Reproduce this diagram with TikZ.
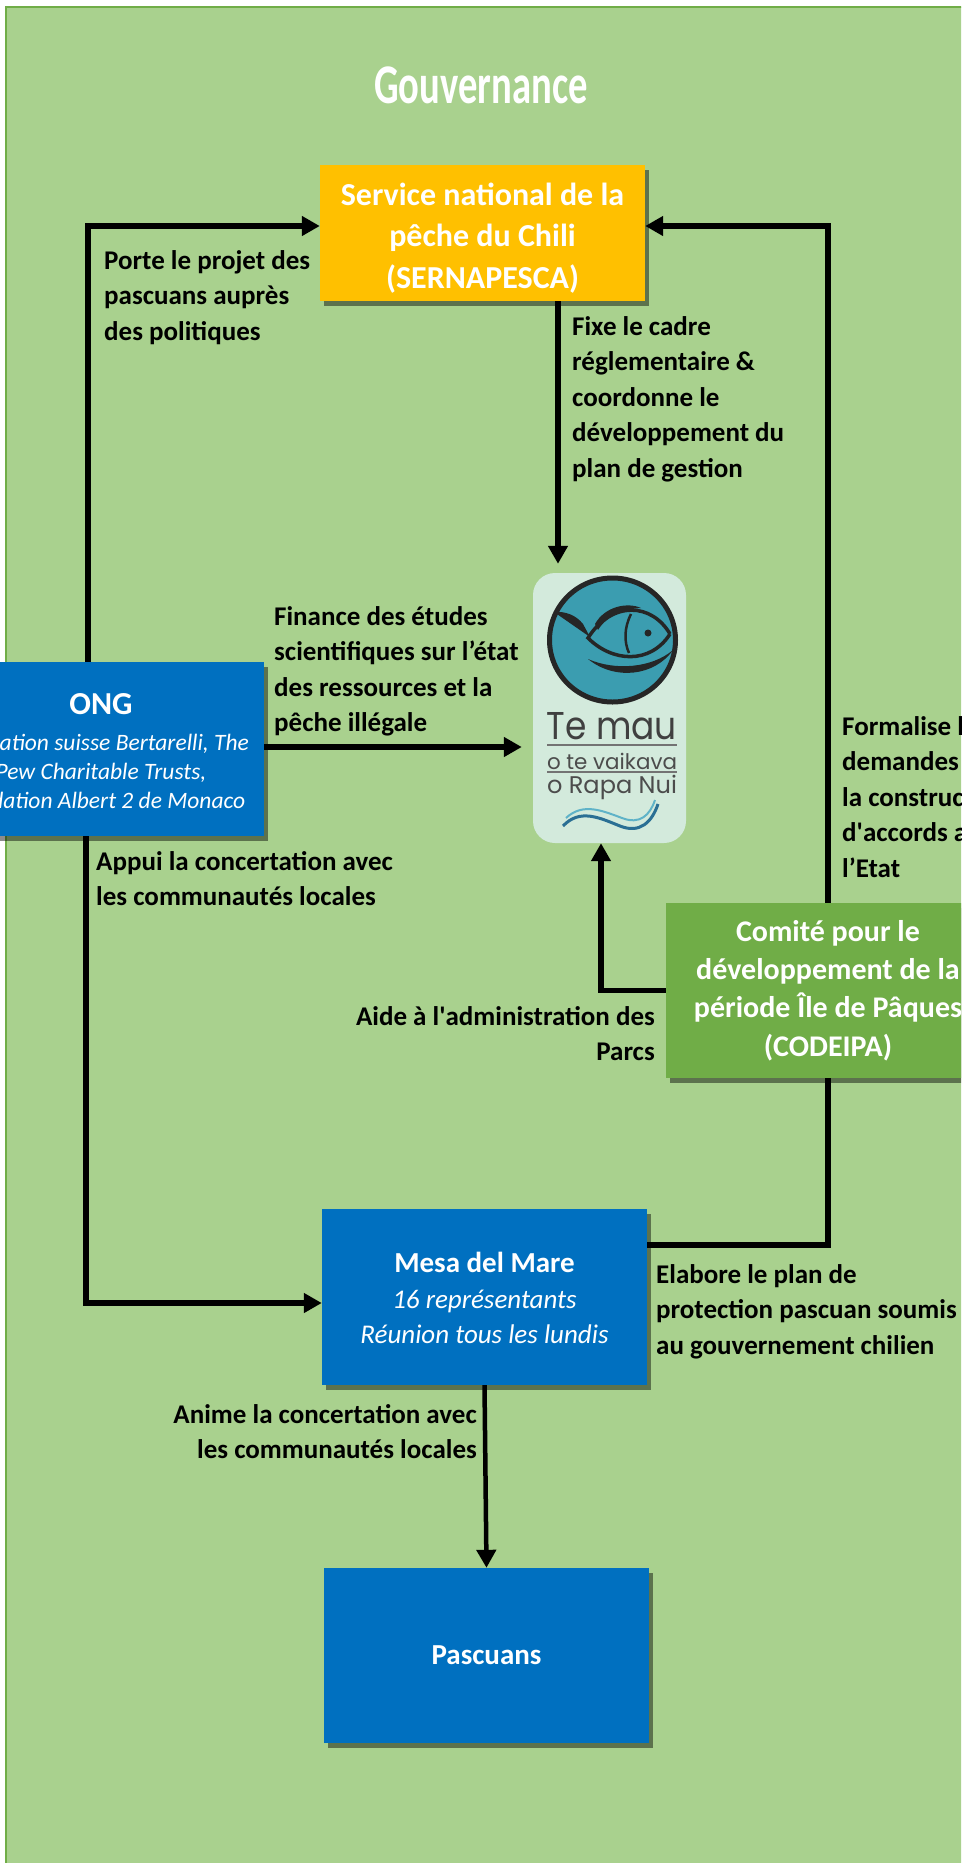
\documentclass[tikz,border=0pt]{standalone}
\usepackage{fontspec}
\setmainfont{Carlito}
\newfontfamily\logofont{Poppins}
\usetikzlibrary{arrows.meta,shadows,calc}
\definecolor{bggreen}{HTML}{A9D18E}
\definecolor{bdgreen}{HTML}{70AD47}
\definecolor{boxblue}{HTML}{0070C0}
\definecolor{boxorange}{HTML}{FFC000}
\definecolor{boxgreen}{HTML}{70AD47}
\definecolor{logobg}{HTML}{D3EADC}
\definecolor{fishteal}{HTML}{3B9DB0}
\definecolor{wavedark}{HTML}{2A6F94}
\definecolor{wavelight}{HTML}{5FB3C8}
\begin{document}
\begin{tikzpicture}[x=1pt,y=-1pt,
  arr/.style={line width=5.5pt,-{Triangle[length=18pt,width=19pt]}},
  conn/.style={line width=5.5pt},
  lbl/.style={font=\fontsize{27}{35.5}\selectfont\bfseries,inner sep=0pt,text=black},
  box/.style={draw=none,minimum width=325pt,minimum height=136pt,text=white,inner sep=0pt,align=center,
    drop shadow={shadow xshift=4pt,shadow yshift=-5pt,opacity=0.45,fill=black}},
  boxtxt/.style={text=white,inner sep=0pt,align=center}
]
\useasboundingbox (0,0) rectangle (961,1863);
\clip (0,0) rectangle (961,1863);
\fill[white] (0,0) rectangle (961,1863);
\filldraw[fill=bggreen,draw=bdgreen,line width=2.5pt] (6,7) rectangle (990,1890);

% title
\node[inner sep=0pt,text=white] (title) at (481,85) {\fontsize{56}{60}\selectfont\bfseries\scalebox{0.69}[1]{Gouvernance}};

% boxes
\node[box,fill=boxorange] (SERN) at (482.5,233) {};
\node[box,fill=boxblue,minimum width=326pt,minimum height=174pt] (ONG) at (101,749) {};
\node[box,fill=boxgreen,minimum width=324pt,minimum height=175pt,font=\fontsize{30}{38.3}\selectfont\bfseries] (COD) at (828,990.5) {Comité pour le\\développement de la\\période Île de Pâques\\(CODEIPA)};
\node[box,fill=boxblue,minimum height=176pt] (MESA) at (484.5,1297) {};
\node[box,fill=boxblue,minimum height=175pt,font=\fontsize{29}{35}\selectfont\bfseries] (PASC) at (486.5,1655.5) {Pascuans};

\node[boxtxt,font=\fontsize{32}{41.5}\selectfont\bfseries] (sernt) at (482.5,238) {Service national de la\\pêche du Chili\\(SERNAPESCA)};
\node[boxtxt,font=\fontsize{32}{38}\selectfont\bfseries] (ongt) at (101,704) {ONG};
\node[boxtxt,font=\fontsize{23.5}{29}\selectfont\itshape] (ongs) at (101,771) {Fondation suisse Bertarelli, The\\Pew Charitable Trusts,\\Fondation Albert 2 de Monaco};
\node[boxtxt,font=\fontsize{29}{35}\selectfont\bfseries] (mesat) at (484.5,1262) {Mesa del Mare};
\node[boxtxt,font=\fontsize{27}{35}\selectfont\itshape] (mesas) at (484.5,1316.5) {16 représentants\\Réunion tous les lundis};

% logo
\node[fill=logobg,rounded corners=22pt,minimum width=153pt,minimum height=270pt,inner sep=0pt] (LOGO) at (609.5,708) {};
\draw[fill=fishteal,line width=5pt,draw=black!85] (612.5,640) ellipse [x radius=63,y radius=62];
\draw[line width=3.5pt,black!85] (670,634) .. controls (652,603) and (612,600) .. (588,638) .. controls (612,662) and (650,665) .. (670,634);
\fill[black!85] (595,624) .. controls (605,606) and (628,602) .. (641,608) .. controls (625,609) and (608,614) .. (598,630) -- cycle;
\fill[black!85] (590,637) -- (554,612) .. controls (565,611) and (576,615) .. (583,624) -- cycle;
\fill[black!85] (588,659) .. controls (615,681) and (655,676) .. (673,650) .. controls (652,668) and (615,671) .. (588,659) -- cycle;
\draw[line width=2.5pt,black!85] (631,614) .. controls (624,628) and (624,642) .. (629,653);
\fill[black!85] (648,633) circle (3.5);
\node[inner sep=0pt,text=black!75] (tmau) at (612,726.5) {\resizebox{130pt}{27pt}{\logofont Te mau}};
\draw[black!55,line width=1.5pt] (547,745) -- (677,745);
\node[inner sep=0pt,text=black!70] (tvai) at (612,761) {\resizebox{130pt}{!}{\logofont o te vaikava}};
\draw[black!55,line width=1.5pt] (547,772) -- (677,772);
\node[inner sep=0pt,text=black!70] (trap) at (612,787) {\resizebox{130pt}{!}{\logofont o Rapa Nui}};
\draw[line width=3pt,wavedark] (563,826) .. controls (580,808) and (600,818) .. (620,826) .. controls (640,834) and (652,822) .. (658,804);
\draw[line width=2pt,wavelight] (566,818) .. controls (583,802) and (603,811) .. (622,818) .. controls (640,825) and (650,815) .. (655,800);

% coordinates
\coordinate (yTop) at (0,226);
\coordinate (xL) at (88,0);
\coordinate (xS) at (558,0);
\coordinate (yF) at (0,747);
\coordinate (xC) at (601,0);
\coordinate (xB) at (86,0);
\coordinate (yM) at (0,1303);
\coordinate (yE) at (0,1245);

% connectors
\draw[arr] (ONG.north -| xL) |- (SERN.west |- yTop);
\draw[arr] (COD.north) |- (SERN.east |- yTop);
\draw[arr,shorten >=9pt] (SERN.south -| xS) -- (LOGO.north -| xS);
\draw[arr,shorten >=11pt] (ONG.east |- yF) -- (LOGO.west |- yF);
\draw[arr] (COD.west) -| (LOGO.south -| xC);
\draw[arr] (ONG.south -| xB) |- (MESA.west |- yM);
\draw[conn] (MESA.east |- yE) -| (COD.south);
\draw[arr,line width=4.5pt] (MESA.south) -- (PASC.north);

% labels (anchor = baseline of the last line)
\node[lbl,align=left,anchor=base west] (lporte) at (104,340) {Porte le projet des\\pascuans auprès\\des politiques};
\node[lbl,align=left,anchor=base west] (lfixe) at (572,477) {Fixe le cadre\\réglementaire \&\\coordonne le\\développement du\\plan de gestion};
\node[lbl,align=left,anchor=base west] (lfin) at (274,731.5) {Finance des études\\scientifiques sur l’état\\des ressources et la\\pêche illégale};
\node[lbl,align=left,anchor=base west] (lapp) at (96,905.5) {Appui la concertation avec\\les communautés locales};
\node[lbl,align=left,anchor=base west] (lform) at (842,877) {Formalise les\\demandes de\\la construction\\d\textquotesingle accords avec\\l’Etat};
\node[lbl,align=right,anchor=base east] (laide) at (655,1060.5) {Aide à l\textquotesingle administration des\\Parcs};
\node[lbl,align=left,anchor=base west] (lela) at (656,1354) {Elabore le plan de\\protection pascuan soumis\\au gouvernement chilien};
\node[lbl,align=right,anchor=base east] (lani) at (477,1458.5) {Anime la concertation avec\\les communautés locales};
\end{tikzpicture}
\end{document}
